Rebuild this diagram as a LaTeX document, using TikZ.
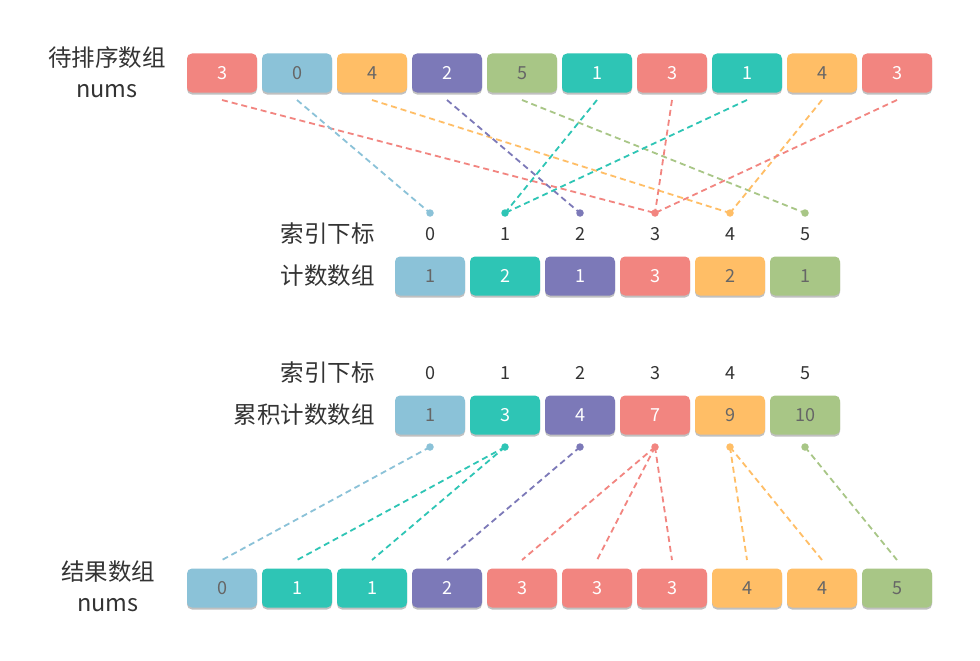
\documentclass[tikz,border=0pt]{standalone}
\usepackage{fontspec}
\setmainfont{Noto Sans CJK SC}
\usetikzlibrary{shadows}
\definecolor{cR}{HTML}{F28580}
\definecolor{cB}{HTML}{8BC2D8}
\definecolor{cO}{HTML}{FFBE66}
\definecolor{cP}{HTML}{7C79B8}
\definecolor{cG}{HTML}{A8C686}
\definecolor{cT}{HTML}{2EC5B5}
\definecolor{dg}{HTML}{666666}
\definecolor{lbl}{HTML}{333333}
\begin{document}
\begin{tikzpicture}[x=1pt,y=-1pt,
  cell/.style={rounded corners=5pt, minimum width=70pt, minimum height=39pt, inner sep=0pt,
    font=\fontsize{18}{18}\selectfont,
    drop shadow={shadow xshift=0pt, shadow yshift=-2pt, opacity=0.35, fill=black!70}},
  lab/.style={text=lbl, inner sep=0pt, font=\fontsize{23.5}{25}\selectfont},
  idx/.style={text=lbl, inner sep=0pt, font=\fontsize{18}{18}\selectfont},
  dot/.style={circle, inner sep=0pt, minimum size=7.5pt},
  link/.style={dash pattern=on 6pt off 4pt, line width=1.8pt}]
\useasboundingbox (0,0) rectangle (980,661);
\fill[white] (0,0) rectangle (980,661);

% labels
\node[lab] (l1) at (107,58) {待排序数组};
\node[lab] (l2) at (107,91) {nums};
\node[lab, anchor=east] (l3) at (375,234) {索引下标};
\node[lab, anchor=east] (l4) at (375,276) {计数数组};
\node[lab, anchor=east] (l5) at (375,373) {索引下标};
\node[lab, anchor=east] (l6) at (375,415) {累积计数数组};
\node[lab] (l7) at (108,572) {结果数组};
\node[lab] (l8) at (108,605) {nums};

% top row
\foreach \v/\c/\t [count=\i from 0] in {3/cR/white,0/cB/dg,4/cO/dg,2/cP/white,5/cG/dg,1/cT/white,3/cR/white,1/cT/white,4/cO/dg,3/cR/white}{
  \node[cell, fill=\c, text=\t] (t\i) at ({222+75*\i},73) {\v};
  \coordinate (ts\i) at ({222+75*\i},100);
}

% index dots and labels (upper)
\foreach \c [count=\i from 0] in {cB,cT,cP,cR,cO,cG}{
  \node[dot, fill=\c] (d\i) at ({430+75*\i},213) {};
  \node[idx] (i\i) at ({430+75*\i},234) {\i};
}

% count row
\foreach \v/\c/\t [count=\i from 0] in {1/cB/dg,2/cT/white,1/cP/white,3/cR/white,2/cO/dg,1/cG/dg}{
  \node[cell, fill=\c, text=\t] (k\i) at ({430+75*\i},276) {\v};
}

% lines top -> index
\foreach \s/\d/\c in {0/3/cR,1/0/cB,2/4/cO,3/2/cP,4/5/cG,5/1/cT,6/3/cR,7/1/cT,8/4/cO,9/3/cR}{
  \draw[link, draw=\c] (ts\s) -- (d\d.center);
}

% lower index labels
\foreach \i in {0,...,5}{
  \node[idx] (j\i) at ({430+75*\i},373) {\i};
}

% cumulative row
\foreach \v/\c/\t [count=\i from 0] in {1/cB/dg,3/cT/white,4/cP/white,7/cR/white,9/cO/dg,10/cG/dg}{
  \node[cell, fill=\c, text=\t] (a\i) at ({430+75*\i},415) {\v};
  \node[dot, fill=\c] (e\i) at ({430+75*\i},447) {};
}

% result row
\foreach \v/\c/\t [count=\i from 0] in {0/cB/dg,1/cT/white,1/cT/white,2/cP/white,3/cR/white,3/cR/white,3/cR/white,4/cO/dg,4/cO/dg,5/cG/dg}{
  \node[cell, fill=\c, text=\t] (r\i) at ({222+75*\i},588) {\v};
  \coordinate (rs\i) at ({222+75*\i},560);
}

% lines cumulative -> result
\foreach \d/\s/\c in {0/0/cB,1/1/cT,1/2/cT,2/3/cP,3/4/cR,3/5/cR,3/6/cR,4/7/cO,4/8/cO,5/9/cG}{
  \draw[link, draw=\c] (e\d.center) -- (rs\s);
}
\end{tikzpicture}
\end{document}
